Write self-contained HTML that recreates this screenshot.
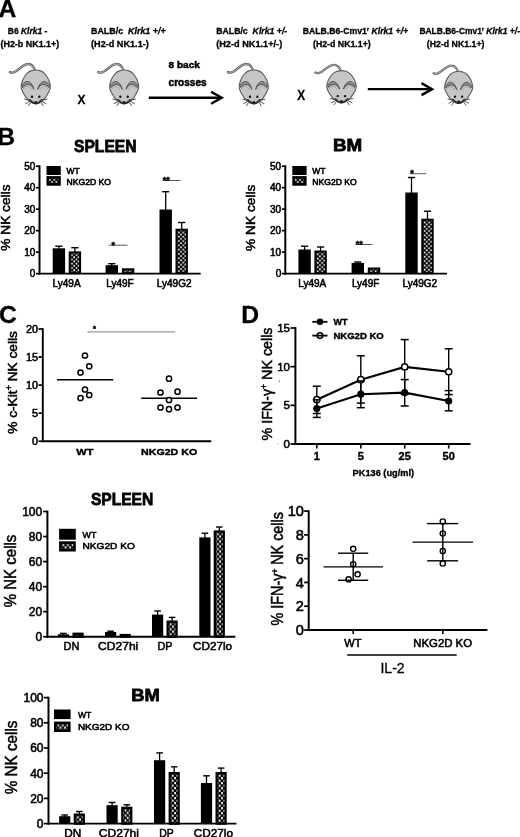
<!DOCTYPE html>
<html lang="en"><head><meta charset="utf-8"><title>Figure</title>
<style>html,body{margin:0;padding:0;background:#fff}svg{display:block}text{font-family:"Liberation Sans", Arial, sans-serif;fill:#000}.tk{stroke:#000;stroke-width:.55px}.lg{stroke:#000;stroke-width:.55px}.xl{stroke:#000;stroke-width:.55px}.hv{stroke:#000;stroke-width:.5px}.hd{stroke:#000;stroke-width:.8px}.ax{stroke:#000;stroke-width:.5px}.pa{stroke:#000;stroke-width:.3px}.lb{stroke:#000;stroke-width:.4px}</style>
</head><body>
<svg width="520" height="837" viewBox="0 0 520 837">
<defs><pattern id="chk" x="0" y="0.5" width="4.45" height="4.3" patternUnits="userSpaceOnUse"><rect width="4.45" height="4.3" fill="#000"/><rect x="2.45" y="2.35" width="1.7" height="1.7" fill="#fff"/><rect x="0.2" y="0.2" width="1.7" height="1.7" fill="#fff"/></pattern><pattern id="chk2" x="0.9" y="0" width="4.6" height="5.0" patternUnits="userSpaceOnUse"><rect width="4.6" height="5.0" fill="#000"/><rect x="2.45" y="2.6" width="1.7" height="2.2" fill="#fff"/><rect x="0.15" y="0.05" width="1.7" height="2.2" fill="#fff"/></pattern></defs>
<rect width="520" height="837" fill="#fff"/>
<text class="pa" x="-1.4" y="16.6" font-size="24.7" font-weight="bold">A</text>
<text class="pa" x="7.8" y="33.7" font-size="9" font-weight="bold" textLength="39.5" lengthAdjust="spacingAndGlyphs" xml:space="preserve">B6 <tspan font-style="italic">Klrk1 -</tspan></text>
<text class="pa" x="0.5" y="47" font-size="9" font-weight="bold" textLength="58.7" lengthAdjust="spacingAndGlyphs">(H2-b NK1.1+)</text>
<text class="pa" x="91" y="33.7" font-size="9" font-weight="bold" textLength="74.6" lengthAdjust="spacingAndGlyphs" xml:space="preserve">BALB/c  <tspan font-style="italic">Klrk1 +/+</tspan></text>
<text class="pa" x="91" y="47" font-size="9" font-weight="bold" textLength="57.8" lengthAdjust="spacingAndGlyphs">(H2-d NK1.1-)</text>
<text class="pa" x="216.2" y="33.7" font-size="9" font-weight="bold" textLength="71.1" lengthAdjust="spacingAndGlyphs" xml:space="preserve">BALB/c  <tspan font-style="italic">Klrk1 +/-</tspan></text>
<text class="pa" x="216.2" y="47" font-size="9" font-weight="bold" textLength="66" lengthAdjust="spacingAndGlyphs">(H2-d NK1.1+/-)</text>
<text class="pa" x="302.7" y="33.7" font-size="9" font-weight="bold" textLength="105.5" lengthAdjust="spacingAndGlyphs" xml:space="preserve">BALB.B6-Cmv1<tspan font-size="5.5" dy="-3">r</tspan><tspan dy="3" font-style="italic"> Klrk1 +/+</tspan></text>
<text class="pa" x="313" y="47" font-size="9" font-weight="bold" textLength="57.7" lengthAdjust="spacingAndGlyphs">(H2-d NK1.1+)</text>
<text class="pa" x="419.4" y="33.7" font-size="9" font-weight="bold" textLength="100.6" lengthAdjust="spacingAndGlyphs" xml:space="preserve">BALB.B6-Cmv1<tspan font-size="5.5" dy="-3">r</tspan><tspan dy="3" font-style="italic"> Klrk1 +/-</tspan></text>
<text class="pa" x="426.8" y="47" font-size="9" font-weight="bold" textLength="57.7" lengthAdjust="spacingAndGlyphs">(H2-d NK1.1+)</text>
<text class="hv" x="168.6" y="67.9" font-size="9.8" font-weight="bold" textLength="31.2" lengthAdjust="spacingAndGlyphs">8 back</text>
<text class="hv" x="168.6" y="85.6" font-size="10" font-weight="bold" textLength="38" lengthAdjust="spacingAndGlyphs">crosses</text>
<text class="pa" x="77.5" y="103.5" font-size="13" font-weight="bold" textLength="7.9" lengthAdjust="spacingAndGlyphs">X</text>
<text class="pa" x="297.2" y="99.9" font-size="14.3" font-weight="bold" textLength="7.9" lengthAdjust="spacingAndGlyphs">X</text>
<line x1="148.8" y1="97.75" x2="220.3" y2="97.75" stroke="#000" stroke-width="2.4"/>
<path d="M211.1 91.75 L221.7 97.75 L211.1 103.75" fill="none" stroke="#000" stroke-width="2.4" stroke-linejoin="miter"/>
<line x1="367.8" y1="89.15" x2="430.7" y2="89.15" stroke="#000" stroke-width="2.4"/>
<path d="M421.5 83.15 L432.1 89.15 L421.5 95.15" fill="none" stroke="#000" stroke-width="2.4" stroke-linejoin="miter"/>
<g transform="translate(4.27 57.12) scale(0.99 1.047)">
<path d="M31.3 13.4 C29.8 8.6 26.5 6 22.5 6.8 C17 8 14.5 13.2 9.5 14.6 C8 15 6.8 15 5.6 14.3" fill="none" stroke="#606060" stroke-width="2.3" stroke-linecap="round"/>
<path d="M31.3 13.4 C29.8 8.6 26.5 6 22.5 6.8 C17 8 14.5 13.2 9.5 14.6 C8 15 6.8 15 5.6 14.3" fill="none" stroke="#c2c2c2" stroke-width="0.8" stroke-linecap="round"/>
<path d="M31.8 12.3 C33.5 12.3 35.3 12.7 36.8 13.2 C38.3 13.7 39.4 14.4 40.6 15.5 C41.8 16.6 43.0 18.5 43.9 19.9 C44.8 21.3 45.3 22.6 45.7 24.0 C46.1 25.4 46.5 26.7 46.5 28.0 C46.5 29.3 46.1 30.8 45.6 32.0 C45.1 33.2 44.5 34.0 43.7 35.3 C42.9 36.5 41.9 38.3 40.8 39.5 C39.7 40.7 38.2 41.8 37.1 42.6 C36.0 43.4 35.2 43.9 34.0 44.2 C32.8 44.5 30.9 44.5 29.6 44.2 C28.4 43.9 27.6 43.4 26.5 42.6 C25.4 41.8 23.9 40.7 22.8 39.5 C21.7 38.3 20.7 36.5 19.9 35.3 C19.1 34.0 18.5 33.2 18.0 32.0 C17.5 30.8 17.1 29.3 17.1 28.0 C17.1 26.7 17.5 25.4 17.9 24.0 C18.3 22.6 18.9 21.3 19.7 19.9 C20.6 18.5 21.8 16.6 23.0 15.5 C24.2 14.4 25.3 13.7 26.8 13.2 C28.3 12.7 30.1 12.3 31.8 12.3 Z" fill="#c6c6c6" stroke="#5c5c5c" stroke-width="1.15"/>
<path d="M18 27.4 C20.8 21.4 27.6 21.6 29.8 30.8 C27.2 25 22.4 24.8 18.8 29 Z" fill="#8c8c8c" stroke="#4a4a4a" stroke-width="0.9" stroke-linejoin="round"/>
<path d="M19.2 30.6 C22.2 26.6 25.6 27 27.4 31.4" fill="none" stroke="#9a9a9a" stroke-width="0.7"/>
<path d="M45.6 27.4 C42.8 21.4 36 21.6 33.8 30.8 C36.4 25 41.2 24.8 44.8 29 Z" fill="#8c8c8c" stroke="#4a4a4a" stroke-width="0.9" stroke-linejoin="round"/>
<path d="M44.4 30.6 C41.4 26.6 38 27 36.2 31.4" fill="none" stroke="#9a9a9a" stroke-width="0.7"/>
<circle cx="28" cy="37.8" r="1.2" fill="#111"/><circle cx="35.4" cy="37.8" r="1.2" fill="#111"/>
<path d="M25.3 40.4 C27.4 42.7 29.8 44.3 31.8 44.3 C33.8 44.3 36.2 42.7 38.3 40.4" fill="none" stroke="#333" stroke-width="1.8"/>
<ellipse cx="31.8" cy="43.3" rx="1.6" ry="1.5" fill="#1c1c1c"/>
<line x1="26" y1="41.3" x2="20.2" y2="40.2" stroke="#3c3c3c" stroke-width="0.85"/>
<line x1="37.8" y1="41.3" x2="43.6" y2="40.2" stroke="#3c3c3c" stroke-width="0.85"/>
<line x1="25.7" y1="42.4" x2="21.2" y2="44.6" stroke="#3c3c3c" stroke-width="0.85"/>
<line x1="38.1" y1="42.4" x2="42.6" y2="44.6" stroke="#3c3c3c" stroke-width="0.85"/>
<line x1="26.6" y1="43.3" x2="24.2" y2="46.8" stroke="#3c3c3c" stroke-width="0.85"/>
<line x1="37.2" y1="43.3" x2="39.6" y2="46.8" stroke="#3c3c3c" stroke-width="0.85"/>
</g>
<g transform="translate(92.67 57.12) scale(0.99 1.047)">
<path d="M31.3 13.4 C29.8 8.6 26.5 6 22.5 6.8 C17 8 14.5 13.2 9.5 14.6 C8 15 6.8 15 5.6 14.3" fill="none" stroke="#606060" stroke-width="2.3" stroke-linecap="round"/>
<path d="M31.3 13.4 C29.8 8.6 26.5 6 22.5 6.8 C17 8 14.5 13.2 9.5 14.6 C8 15 6.8 15 5.6 14.3" fill="none" stroke="#c2c2c2" stroke-width="0.8" stroke-linecap="round"/>
<path d="M31.8 12.3 C33.5 12.3 35.3 12.7 36.8 13.2 C38.3 13.7 39.4 14.4 40.6 15.5 C41.8 16.6 43.0 18.5 43.9 19.9 C44.8 21.3 45.3 22.6 45.7 24.0 C46.1 25.4 46.5 26.7 46.5 28.0 C46.5 29.3 46.1 30.8 45.6 32.0 C45.1 33.2 44.5 34.0 43.7 35.3 C42.9 36.5 41.9 38.3 40.8 39.5 C39.7 40.7 38.2 41.8 37.1 42.6 C36.0 43.4 35.2 43.9 34.0 44.2 C32.8 44.5 30.9 44.5 29.6 44.2 C28.4 43.9 27.6 43.4 26.5 42.6 C25.4 41.8 23.9 40.7 22.8 39.5 C21.7 38.3 20.7 36.5 19.9 35.3 C19.1 34.0 18.5 33.2 18.0 32.0 C17.5 30.8 17.1 29.3 17.1 28.0 C17.1 26.7 17.5 25.4 17.9 24.0 C18.3 22.6 18.9 21.3 19.7 19.9 C20.6 18.5 21.8 16.6 23.0 15.5 C24.2 14.4 25.3 13.7 26.8 13.2 C28.3 12.7 30.1 12.3 31.8 12.3 Z" fill="#c6c6c6" stroke="#5c5c5c" stroke-width="1.15"/>
<path d="M18 27.4 C20.8 21.4 27.6 21.6 29.8 30.8 C27.2 25 22.4 24.8 18.8 29 Z" fill="#8c8c8c" stroke="#4a4a4a" stroke-width="0.9" stroke-linejoin="round"/>
<path d="M19.2 30.6 C22.2 26.6 25.6 27 27.4 31.4" fill="none" stroke="#9a9a9a" stroke-width="0.7"/>
<path d="M45.6 27.4 C42.8 21.4 36 21.6 33.8 30.8 C36.4 25 41.2 24.8 44.8 29 Z" fill="#8c8c8c" stroke="#4a4a4a" stroke-width="0.9" stroke-linejoin="round"/>
<path d="M44.4 30.6 C41.4 26.6 38 27 36.2 31.4" fill="none" stroke="#9a9a9a" stroke-width="0.7"/>
<circle cx="28" cy="37.8" r="1.2" fill="#111"/><circle cx="35.4" cy="37.8" r="1.2" fill="#111"/>
<path d="M25.3 40.4 C27.4 42.7 29.8 44.3 31.8 44.3 C33.8 44.3 36.2 42.7 38.3 40.4" fill="none" stroke="#333" stroke-width="1.8"/>
<ellipse cx="31.8" cy="43.3" rx="1.6" ry="1.5" fill="#1c1c1c"/>
<line x1="26" y1="41.3" x2="20.2" y2="40.2" stroke="#3c3c3c" stroke-width="0.85"/>
<line x1="37.8" y1="41.3" x2="43.6" y2="40.2" stroke="#3c3c3c" stroke-width="0.85"/>
<line x1="25.7" y1="42.4" x2="21.2" y2="44.6" stroke="#3c3c3c" stroke-width="0.85"/>
<line x1="38.1" y1="42.4" x2="42.6" y2="44.6" stroke="#3c3c3c" stroke-width="0.85"/>
<line x1="26.6" y1="43.3" x2="24.2" y2="46.8" stroke="#3c3c3c" stroke-width="0.85"/>
<line x1="37.2" y1="43.3" x2="39.6" y2="46.8" stroke="#3c3c3c" stroke-width="0.85"/>
</g>
<g transform="translate(222.27 57.12) scale(0.99 1.047)">
<path d="M31.3 13.4 C29.8 8.6 26.5 6 22.5 6.8 C17 8 14.5 13.2 9.5 14.6 C8 15 6.8 15 5.6 14.3" fill="none" stroke="#606060" stroke-width="2.3" stroke-linecap="round"/>
<path d="M31.3 13.4 C29.8 8.6 26.5 6 22.5 6.8 C17 8 14.5 13.2 9.5 14.6 C8 15 6.8 15 5.6 14.3" fill="none" stroke="#c2c2c2" stroke-width="0.8" stroke-linecap="round"/>
<path d="M31.8 12.3 C33.5 12.3 35.3 12.7 36.8 13.2 C38.3 13.7 39.4 14.4 40.6 15.5 C41.8 16.6 43.0 18.5 43.9 19.9 C44.8 21.3 45.3 22.6 45.7 24.0 C46.1 25.4 46.5 26.7 46.5 28.0 C46.5 29.3 46.1 30.8 45.6 32.0 C45.1 33.2 44.5 34.0 43.7 35.3 C42.9 36.5 41.9 38.3 40.8 39.5 C39.7 40.7 38.2 41.8 37.1 42.6 C36.0 43.4 35.2 43.9 34.0 44.2 C32.8 44.5 30.9 44.5 29.6 44.2 C28.4 43.9 27.6 43.4 26.5 42.6 C25.4 41.8 23.9 40.7 22.8 39.5 C21.7 38.3 20.7 36.5 19.9 35.3 C19.1 34.0 18.5 33.2 18.0 32.0 C17.5 30.8 17.1 29.3 17.1 28.0 C17.1 26.7 17.5 25.4 17.9 24.0 C18.3 22.6 18.9 21.3 19.7 19.9 C20.6 18.5 21.8 16.6 23.0 15.5 C24.2 14.4 25.3 13.7 26.8 13.2 C28.3 12.7 30.1 12.3 31.8 12.3 Z" fill="#c6c6c6" stroke="#5c5c5c" stroke-width="1.15"/>
<path d="M18 27.4 C20.8 21.4 27.6 21.6 29.8 30.8 C27.2 25 22.4 24.8 18.8 29 Z" fill="#8c8c8c" stroke="#4a4a4a" stroke-width="0.9" stroke-linejoin="round"/>
<path d="M19.2 30.6 C22.2 26.6 25.6 27 27.4 31.4" fill="none" stroke="#9a9a9a" stroke-width="0.7"/>
<path d="M45.6 27.4 C42.8 21.4 36 21.6 33.8 30.8 C36.4 25 41.2 24.8 44.8 29 Z" fill="#8c8c8c" stroke="#4a4a4a" stroke-width="0.9" stroke-linejoin="round"/>
<path d="M44.4 30.6 C41.4 26.6 38 27 36.2 31.4" fill="none" stroke="#9a9a9a" stroke-width="0.7"/>
<circle cx="28" cy="37.8" r="1.2" fill="#111"/><circle cx="35.4" cy="37.8" r="1.2" fill="#111"/>
<path d="M25.3 40.4 C27.4 42.7 29.8 44.3 31.8 44.3 C33.8 44.3 36.2 42.7 38.3 40.4" fill="none" stroke="#333" stroke-width="1.8"/>
<ellipse cx="31.8" cy="43.3" rx="1.6" ry="1.5" fill="#1c1c1c"/>
<line x1="26" y1="41.3" x2="20.2" y2="40.2" stroke="#3c3c3c" stroke-width="0.85"/>
<line x1="37.8" y1="41.3" x2="43.6" y2="40.2" stroke="#3c3c3c" stroke-width="0.85"/>
<line x1="25.7" y1="42.4" x2="21.2" y2="44.6" stroke="#3c3c3c" stroke-width="0.85"/>
<line x1="38.1" y1="42.4" x2="42.6" y2="44.6" stroke="#3c3c3c" stroke-width="0.85"/>
<line x1="26.6" y1="43.3" x2="24.2" y2="46.8" stroke="#3c3c3c" stroke-width="0.85"/>
<line x1="37.2" y1="43.3" x2="39.6" y2="46.8" stroke="#3c3c3c" stroke-width="0.85"/>
</g>
<g transform="translate(309.7 58.3) scale(1 1)">
<path d="M31.3 13.4 C29.8 8.6 26.5 6 22.5 6.8 C17 8 14.5 13.2 9.5 14.6 C8 15 6.8 15 5.6 14.3" fill="none" stroke="#606060" stroke-width="2.3" stroke-linecap="round"/>
<path d="M31.3 13.4 C29.8 8.6 26.5 6 22.5 6.8 C17 8 14.5 13.2 9.5 14.6 C8 15 6.8 15 5.6 14.3" fill="none" stroke="#c2c2c2" stroke-width="0.8" stroke-linecap="round"/>
<path d="M31.8 12.3 C33.5 12.3 35.3 12.7 36.8 13.2 C38.3 13.7 39.4 14.4 40.6 15.5 C41.8 16.6 43.0 18.5 43.9 19.9 C44.8 21.3 45.3 22.6 45.7 24.0 C46.1 25.4 46.5 26.7 46.5 28.0 C46.5 29.3 46.1 30.8 45.6 32.0 C45.1 33.2 44.5 34.0 43.7 35.3 C42.9 36.5 41.9 38.3 40.8 39.5 C39.7 40.7 38.2 41.8 37.1 42.6 C36.0 43.4 35.2 43.9 34.0 44.2 C32.8 44.5 30.9 44.5 29.6 44.2 C28.4 43.9 27.6 43.4 26.5 42.6 C25.4 41.8 23.9 40.7 22.8 39.5 C21.7 38.3 20.7 36.5 19.9 35.3 C19.1 34.0 18.5 33.2 18.0 32.0 C17.5 30.8 17.1 29.3 17.1 28.0 C17.1 26.7 17.5 25.4 17.9 24.0 C18.3 22.6 18.9 21.3 19.7 19.9 C20.6 18.5 21.8 16.6 23.0 15.5 C24.2 14.4 25.3 13.7 26.8 13.2 C28.3 12.7 30.1 12.3 31.8 12.3 Z" fill="#c6c6c6" stroke="#5c5c5c" stroke-width="1.15"/>
<path d="M18 27.4 C20.8 21.4 27.6 21.6 29.8 30.8 C27.2 25 22.4 24.8 18.8 29 Z" fill="#8c8c8c" stroke="#4a4a4a" stroke-width="0.9" stroke-linejoin="round"/>
<path d="M19.2 30.6 C22.2 26.6 25.6 27 27.4 31.4" fill="none" stroke="#9a9a9a" stroke-width="0.7"/>
<path d="M45.6 27.4 C42.8 21.4 36 21.6 33.8 30.8 C36.4 25 41.2 24.8 44.8 29 Z" fill="#8c8c8c" stroke="#4a4a4a" stroke-width="0.9" stroke-linejoin="round"/>
<path d="M44.4 30.6 C41.4 26.6 38 27 36.2 31.4" fill="none" stroke="#9a9a9a" stroke-width="0.7"/>
<circle cx="28" cy="37.8" r="1.2" fill="#111"/><circle cx="35.4" cy="37.8" r="1.2" fill="#111"/>
<path d="M25.3 40.4 C27.4 42.7 29.8 44.3 31.8 44.3 C33.8 44.3 36.2 42.7 38.3 40.4" fill="none" stroke="#333" stroke-width="1.8"/>
<ellipse cx="31.8" cy="43.3" rx="1.6" ry="1.5" fill="#1c1c1c"/>
<line x1="26" y1="41.3" x2="20.2" y2="40.2" stroke="#3c3c3c" stroke-width="0.85"/>
<line x1="37.8" y1="41.3" x2="43.6" y2="40.2" stroke="#3c3c3c" stroke-width="0.85"/>
<line x1="25.7" y1="42.4" x2="21.2" y2="44.6" stroke="#3c3c3c" stroke-width="0.85"/>
<line x1="38.1" y1="42.4" x2="42.6" y2="44.6" stroke="#3c3c3c" stroke-width="0.85"/>
<line x1="26.6" y1="43.3" x2="24.2" y2="46.8" stroke="#3c3c3c" stroke-width="0.85"/>
<line x1="37.2" y1="43.3" x2="39.6" y2="46.8" stroke="#3c3c3c" stroke-width="0.85"/>
</g>
<g transform="translate(428.25 59.07) scale(0.956 0.994)">
<path d="M31.3 13.4 C29.8 8.6 26.5 6 22.5 6.8 C17 8 14.5 13.2 9.5 14.6 C8 15 6.8 15 5.6 14.3" fill="none" stroke="#606060" stroke-width="2.3" stroke-linecap="round"/>
<path d="M31.3 13.4 C29.8 8.6 26.5 6 22.5 6.8 C17 8 14.5 13.2 9.5 14.6 C8 15 6.8 15 5.6 14.3" fill="none" stroke="#c2c2c2" stroke-width="0.8" stroke-linecap="round"/>
<path d="M31.8 12.3 C33.5 12.3 35.3 12.7 36.8 13.2 C38.3 13.7 39.4 14.4 40.6 15.5 C41.8 16.6 43.0 18.5 43.9 19.9 C44.8 21.3 45.3 22.6 45.7 24.0 C46.1 25.4 46.5 26.7 46.5 28.0 C46.5 29.3 46.1 30.8 45.6 32.0 C45.1 33.2 44.5 34.0 43.7 35.3 C42.9 36.5 41.9 38.3 40.8 39.5 C39.7 40.7 38.2 41.8 37.1 42.6 C36.0 43.4 35.2 43.9 34.0 44.2 C32.8 44.5 30.9 44.5 29.6 44.2 C28.4 43.9 27.6 43.4 26.5 42.6 C25.4 41.8 23.9 40.7 22.8 39.5 C21.7 38.3 20.7 36.5 19.9 35.3 C19.1 34.0 18.5 33.2 18.0 32.0 C17.5 30.8 17.1 29.3 17.1 28.0 C17.1 26.7 17.5 25.4 17.9 24.0 C18.3 22.6 18.9 21.3 19.7 19.9 C20.6 18.5 21.8 16.6 23.0 15.5 C24.2 14.4 25.3 13.7 26.8 13.2 C28.3 12.7 30.1 12.3 31.8 12.3 Z" fill="#c6c6c6" stroke="#5c5c5c" stroke-width="1.15"/>
<path d="M18 27.4 C20.8 21.4 27.6 21.6 29.8 30.8 C27.2 25 22.4 24.8 18.8 29 Z" fill="#8c8c8c" stroke="#4a4a4a" stroke-width="0.9" stroke-linejoin="round"/>
<path d="M19.2 30.6 C22.2 26.6 25.6 27 27.4 31.4" fill="none" stroke="#9a9a9a" stroke-width="0.7"/>
<path d="M45.6 27.4 C42.8 21.4 36 21.6 33.8 30.8 C36.4 25 41.2 24.8 44.8 29 Z" fill="#8c8c8c" stroke="#4a4a4a" stroke-width="0.9" stroke-linejoin="round"/>
<path d="M44.4 30.6 C41.4 26.6 38 27 36.2 31.4" fill="none" stroke="#9a9a9a" stroke-width="0.7"/>
<circle cx="28" cy="37.8" r="1.2" fill="#111"/><circle cx="35.4" cy="37.8" r="1.2" fill="#111"/>
<path d="M25.3 40.4 C27.4 42.7 29.8 44.3 31.8 44.3 C33.8 44.3 36.2 42.7 38.3 40.4" fill="none" stroke="#333" stroke-width="1.8"/>
<ellipse cx="31.8" cy="43.3" rx="1.6" ry="1.5" fill="#1c1c1c"/>
<line x1="26" y1="41.3" x2="20.2" y2="40.2" stroke="#3c3c3c" stroke-width="0.85"/>
<line x1="37.8" y1="41.3" x2="43.6" y2="40.2" stroke="#3c3c3c" stroke-width="0.85"/>
<line x1="25.7" y1="42.4" x2="21.2" y2="44.6" stroke="#3c3c3c" stroke-width="0.85"/>
<line x1="38.1" y1="42.4" x2="42.6" y2="44.6" stroke="#3c3c3c" stroke-width="0.85"/>
<line x1="26.6" y1="43.3" x2="24.2" y2="46.8" stroke="#3c3c3c" stroke-width="0.85"/>
<line x1="37.2" y1="43.3" x2="39.6" y2="46.8" stroke="#3c3c3c" stroke-width="0.85"/>
</g>
<text class="pa" x="-2.8" y="145.4" font-size="24.7" font-weight="bold">B</text>
<text class="hd" x="74.0" y="151.6" font-size="17.3" font-weight="bold" textLength="62.6" lengthAdjust="spacingAndGlyphs">SPLEEN</text>
<text class="hd" x="333.0" y="151.0" font-size="17.3" font-weight="bold" textLength="29.2" lengthAdjust="spacingAndGlyphs">BM</text>
<line x1="58.9" y1="248.8" x2="58.9" y2="246.2" stroke="#000" stroke-width="1.3"/>
<line x1="55.3" y1="246.2" x2="62.5" y2="246.2" stroke="#000" stroke-width="1.4"/>
<rect x="52.7" y="248.3" width="12.4" height="24.9" fill="#000"/>
<line x1="74.9" y1="251.9" x2="74.9" y2="247.7" stroke="#000" stroke-width="1.3"/>
<line x1="71.3" y1="247.7" x2="78.5" y2="247.7" stroke="#000" stroke-width="1.4"/>
<g transform="translate(68.7 251.4)">
<rect x="1.0" y="1.0" width="10.4" height="20.8" fill="url(#chk)" stroke="#000" stroke-width="2"/>
</g>
<line x1="111.8" y1="265.7" x2="111.8" y2="263.7" stroke="#000" stroke-width="1.3"/>
<line x1="108.2" y1="263.7" x2="115.4" y2="263.7" stroke="#000" stroke-width="1.4"/>
<rect x="105.6" y="265.2" width="12.4" height="8.0" fill="#000"/>
<g transform="translate(121.9 268.3)">
<rect x="1.0" y="1.0" width="10.4" height="3.9" fill="url(#chk)" stroke="#000" stroke-width="2"/>
</g>
<line x1="165.7" y1="210.0" x2="165.7" y2="191.7" stroke="#000" stroke-width="1.3"/>
<line x1="162.1" y1="191.7" x2="169.3" y2="191.7" stroke="#000" stroke-width="1.4"/>
<rect x="159.5" y="209.5" width="12.4" height="63.7" fill="#000"/>
<line x1="181.7" y1="229.2" x2="181.7" y2="222.5" stroke="#000" stroke-width="1.3"/>
<line x1="178.1" y1="222.5" x2="185.3" y2="222.5" stroke="#000" stroke-width="1.4"/>
<g transform="translate(175.5 228.7)">
<rect x="1.0" y="1.0" width="10.4" height="43.5" fill="url(#chk)" stroke="#000" stroke-width="2"/>
</g>
<line x1="39.5" y1="165.35" x2="39.5" y2="274.65" stroke="#000" stroke-width="2"/>
<line x1="36" y1="166.2" x2="39.5" y2="166.2" stroke="#000" stroke-width="1.7"/>
<text class="tk" x="35.4" y="169.8" font-size="10" text-anchor="end">50</text>
<line x1="36" y1="187.69" x2="39.5" y2="187.69" stroke="#000" stroke-width="1.7"/>
<text class="tk" x="35.4" y="191.29" font-size="10" text-anchor="end">40</text>
<line x1="36" y1="209.18" x2="39.5" y2="209.18" stroke="#000" stroke-width="1.7"/>
<text class="tk" x="35.4" y="212.78" font-size="10" text-anchor="end">30</text>
<line x1="36" y1="230.67" x2="39.5" y2="230.67" stroke="#000" stroke-width="1.7"/>
<text class="tk" x="35.4" y="234.27" font-size="10" text-anchor="end">20</text>
<line x1="36" y1="252.16" x2="39.5" y2="252.16" stroke="#000" stroke-width="1.7"/>
<text class="tk" x="35.4" y="255.76" font-size="10" text-anchor="end">10</text>
<line x1="36" y1="273.65" x2="39.5" y2="273.65" stroke="#000" stroke-width="1.7"/>
<text class="tk" x="35.4" y="277.25" font-size="10" text-anchor="end">0</text>
<line x1="38.5" y1="273.65" x2="200.7" y2="273.65" stroke="#000" stroke-width="1.9"/>
<text class="xl" x="66.6" y="286.8" font-size="10" text-anchor="middle">Ly49A</text>
<text class="xl" x="119.9" y="286.8" font-size="10" text-anchor="middle">Ly49F</text>
<text class="xl" x="174.2" y="286.8" font-size="10" text-anchor="middle">Ly49G2</text>
<line x1="108.7" y1="245.2" x2="127.5" y2="245.2" stroke="#444" stroke-width="0.9"/>
<text class="hv" x="111.5" y="247.6" font-size="9" font-weight="bold">*</text>
<line x1="162.5" y1="180.5" x2="180.5" y2="180.5" stroke="#444" stroke-width="0.9"/>
<text class="hv" x="162.7" y="182.9" font-size="9" font-weight="bold">**</text>
<rect x="46.5" y="166.0" width="14.3" height="9.0" fill="#000"/>
<g transform="translate(46.5 176.1)">
<rect x="1.3" y="1.3" width="11.7" height="7.0" fill="url(#chk)" stroke="#000" stroke-width="2.6"/>
</g>
<text class="lg" x="66.5" y="173.5" font-size="8.3" textLength="13.2" lengthAdjust="spacingAndGlyphs">WT</text>
<text class="lg" x="66.5" y="184.6" font-size="8.3" textLength="44.5" lengthAdjust="spacingAndGlyphs">NKG2D KO</text>
<text class="ax" x="9.7" y="217.6" font-size="12.6" textLength="66.2" lengthAdjust="spacingAndGlyphs" text-anchor="middle" transform="rotate(-90 9.7 217.6)">% NK cells</text>
<line x1="304.6" y1="250.0" x2="304.6" y2="246.2" stroke="#000" stroke-width="1.3"/>
<line x1="301.0" y1="246.2" x2="308.2" y2="246.2" stroke="#000" stroke-width="1.4"/>
<rect x="298.4" y="249.5" width="12.4" height="23.7" fill="#000"/>
<line x1="320.6" y1="251.0" x2="320.6" y2="247" stroke="#000" stroke-width="1.3"/>
<line x1="317.0" y1="247" x2="324.2" y2="247" stroke="#000" stroke-width="1.4"/>
<g transform="translate(314.4 250.5)">
<rect x="1.0" y="1.0" width="10.4" height="21.7" fill="url(#chk)" stroke="#000" stroke-width="2"/>
</g>
<line x1="357.8" y1="263.5" x2="357.8" y2="262" stroke="#000" stroke-width="1.3"/>
<line x1="354.2" y1="262" x2="361.4" y2="262" stroke="#000" stroke-width="1.4"/>
<rect x="351.6" y="263" width="12.4" height="10.2" fill="#000"/>
<g transform="translate(367.8 267.5)">
<rect x="1.0" y="1.0" width="10.4" height="4.7" fill="url(#chk)" stroke="#000" stroke-width="2"/>
</g>
<line x1="411.5" y1="193.0" x2="411.5" y2="177.5" stroke="#000" stroke-width="1.3"/>
<line x1="407.9" y1="177.5" x2="415.1" y2="177.5" stroke="#000" stroke-width="1.4"/>
<rect x="405.3" y="192.5" width="12.4" height="80.7" fill="#000"/>
<line x1="427.5" y1="219.2" x2="427.5" y2="211.2" stroke="#000" stroke-width="1.3"/>
<line x1="423.9" y1="211.2" x2="431.1" y2="211.2" stroke="#000" stroke-width="1.4"/>
<g transform="translate(421.3 218.7)">
<rect x="1.0" y="1.0" width="10.4" height="53.5" fill="url(#chk)" stroke="#000" stroke-width="2"/>
</g>
<line x1="285.3" y1="165.35" x2="285.3" y2="274.65" stroke="#000" stroke-width="2"/>
<line x1="281.8" y1="166.2" x2="285.3" y2="166.2" stroke="#000" stroke-width="1.7"/>
<text class="tk" x="281.2" y="169.8" font-size="10" text-anchor="end">50</text>
<line x1="281.8" y1="187.69" x2="285.3" y2="187.69" stroke="#000" stroke-width="1.7"/>
<text class="tk" x="281.2" y="191.29" font-size="10" text-anchor="end">40</text>
<line x1="281.8" y1="209.18" x2="285.3" y2="209.18" stroke="#000" stroke-width="1.7"/>
<text class="tk" x="281.2" y="212.78" font-size="10" text-anchor="end">30</text>
<line x1="281.8" y1="230.67" x2="285.3" y2="230.67" stroke="#000" stroke-width="1.7"/>
<text class="tk" x="281.2" y="234.27" font-size="10" text-anchor="end">20</text>
<line x1="281.8" y1="252.16" x2="285.3" y2="252.16" stroke="#000" stroke-width="1.7"/>
<text class="tk" x="281.2" y="255.76" font-size="10" text-anchor="end">10</text>
<line x1="281.8" y1="273.65" x2="285.3" y2="273.65" stroke="#000" stroke-width="1.7"/>
<text class="tk" x="281.2" y="277.25" font-size="10" text-anchor="end">0</text>
<line x1="284.3" y1="273.65" x2="447" y2="273.65" stroke="#000" stroke-width="1.9"/>
<text class="xl" x="312.2" y="286.8" font-size="10" text-anchor="middle">Ly49A</text>
<text class="xl" x="365.6" y="286.8" font-size="10" text-anchor="middle">Ly49F</text>
<text class="xl" x="419.8" y="286.8" font-size="10" text-anchor="middle">Ly49G2</text>
<line x1="355.5" y1="244.5" x2="372.5" y2="244.5" stroke="#444" stroke-width="0.9"/>
<text class="hv" x="355.7" y="246.9" font-size="9" font-weight="bold">**</text>
<line x1="409.5" y1="173.7" x2="426.2" y2="173.7" stroke="#444" stroke-width="0.9"/>
<text class="hv" x="410.3" y="176.1" font-size="9" font-weight="bold">*</text>
<rect x="292.3" y="166.0" width="14.3" height="9.0" fill="#000"/>
<g transform="translate(292.3 176.1)">
<rect x="1.3" y="1.3" width="11.7" height="7.0" fill="url(#chk)" stroke="#000" stroke-width="2.6"/>
</g>
<text class="lg" x="312.3" y="173.5" font-size="8.3" textLength="13.2" lengthAdjust="spacingAndGlyphs">WT</text>
<text class="lg" x="312.3" y="184.6" font-size="8.3" textLength="44.5" lengthAdjust="spacingAndGlyphs">NKG2D KO</text>
<text class="ax" x="255.5" y="217.8" font-size="12.6" textLength="66.2" lengthAdjust="spacingAndGlyphs" text-anchor="middle" transform="rotate(-90 255.5 217.8)">% NK cells</text>
<text class="pa" x="-0.9" y="323" font-size="24.7" font-weight="bold">C</text>
<line x1="42.8" y1="328.15" x2="42.8" y2="442.19" stroke="#000" stroke-width="1.9"/>
<line x1="38.5" y1="329.0" x2="42.8" y2="329.0" stroke="#000" stroke-width="1.7"/>
<text class="tk" x="38.0" y="332.89" font-size="10.8" text-anchor="end">20</text>
<line x1="38.5" y1="357.06" x2="42.8" y2="357.06" stroke="#000" stroke-width="1.7"/>
<text class="tk" x="38.0" y="360.95" font-size="10.8" text-anchor="end">15</text>
<line x1="38.5" y1="385.12" x2="42.8" y2="385.12" stroke="#000" stroke-width="1.7"/>
<text class="tk" x="38.0" y="389.01" font-size="10.8" text-anchor="end">10</text>
<line x1="38.5" y1="413.18" x2="42.8" y2="413.18" stroke="#000" stroke-width="1.7"/>
<text class="tk" x="38.0" y="417.07" font-size="10.8" text-anchor="end">5</text>
<line x1="38.5" y1="441.24" x2="42.8" y2="441.24" stroke="#000" stroke-width="1.7"/>
<text class="tk" x="38.0" y="445.13" font-size="10.8" text-anchor="end">0</text>
<line x1="41.85" y1="441.25" x2="211.2" y2="441.25" stroke="#000" stroke-width="1.8"/>
<line x1="87.3" y1="331.9" x2="175.2" y2="331.9" stroke="#999" stroke-width="1.3"/>
<text class="hv" x="92.9" y="330.7" font-size="7.5" font-weight="bold">*</text>
<line x1="57" y1="379.8" x2="113.2" y2="379.8" stroke="#000" stroke-width="1.6"/>
<line x1="141.2" y1="398.2" x2="197" y2="398.2" stroke="#000" stroke-width="1.6"/>
<circle cx="85" cy="355.5" r="2.6" fill="#fff" stroke="#000" stroke-width="1.5"/>
<circle cx="89.25" cy="366.25" r="2.6" fill="#fff" stroke="#000" stroke-width="1.5"/>
<circle cx="80.5" cy="372.5" r="2.6" fill="#fff" stroke="#000" stroke-width="1.5"/>
<circle cx="85" cy="389.5" r="2.6" fill="#fff" stroke="#000" stroke-width="1.5"/>
<circle cx="89.25" cy="395" r="2.6" fill="#fff" stroke="#000" stroke-width="1.5"/>
<circle cx="80.5" cy="398" r="2.6" fill="#fff" stroke="#000" stroke-width="1.5"/>
<circle cx="169" cy="378.7" r="2.6" fill="#fff" stroke="#000" stroke-width="1.5"/>
<circle cx="160.5" cy="392.5" r="2.6" fill="#fff" stroke="#000" stroke-width="1.5"/>
<circle cx="177.5" cy="391.7" r="2.6" fill="#fff" stroke="#000" stroke-width="1.5"/>
<circle cx="169" cy="400" r="2.6" fill="#fff" stroke="#000" stroke-width="1.5"/>
<circle cx="160.5" cy="407.5" r="2.6" fill="#fff" stroke="#000" stroke-width="1.5"/>
<circle cx="169" cy="409.2" r="2.6" fill="#fff" stroke="#000" stroke-width="1.5"/>
<circle cx="177.5" cy="407.5" r="2.6" fill="#fff" stroke="#000" stroke-width="1.5"/>
<text class="lb" x="76.3" y="455" font-size="9.6" font-weight="bold" textLength="17.2" lengthAdjust="spacingAndGlyphs">WT</text>
<text class="lb" x="141" y="455" font-size="9.6" font-weight="bold" textLength="56.2" lengthAdjust="spacingAndGlyphs">NKG2D KO</text>
<text class="ax" transform="rotate(-90 17.5 433.7)" x="17.5" y="433.7" font-size="13" textLength="102.5" lengthAdjust="spacingAndGlyphs">% c-Kit<tspan font-size="9" dy="-5">+</tspan><tspan dy="5"> NK cells</tspan></text>
<text class="hd" x="90.9" y="504.6" font-size="17.3" font-weight="bold" textLength="62.4" lengthAdjust="spacingAndGlyphs">SPLEEN</text>
<line x1="63.4" y1="634.8" x2="63.4" y2="633.4" stroke="#000" stroke-width="1.3"/>
<line x1="60.1" y1="633.4" x2="66.7" y2="633.4" stroke="#000" stroke-width="1.4"/>
<rect x="57.8" y="634.3" width="11.2" height="2.4" fill="#000"/>
<g transform="translate(72.5 632.6)">
<rect x="1.15" y="1.15" width="8.9" height="2.95" fill="url(#chk2)" stroke="#000" stroke-width="2.3"/>
</g>
<line x1="110.6" y1="632.5" x2="110.6" y2="631.2" stroke="#000" stroke-width="1.3"/>
<line x1="107.3" y1="631.2" x2="113.9" y2="631.2" stroke="#000" stroke-width="1.4"/>
<rect x="105" y="632" width="11.2" height="4.7" fill="#000"/>
<g transform="translate(119.6 633.9)">
<rect x="1.15" y="1.15" width="8.9" height="1.65" fill="url(#chk2)" stroke="#000" stroke-width="2.3"/>
</g>
<line x1="157.6" y1="615.1" x2="157.6" y2="611" stroke="#000" stroke-width="1.3"/>
<line x1="154.3" y1="611" x2="160.9" y2="611" stroke="#000" stroke-width="1.4"/>
<rect x="152" y="614.6" width="11.2" height="22.1" fill="#000"/>
<line x1="172.1" y1="621.0" x2="172.1" y2="617.4" stroke="#000" stroke-width="1.3"/>
<line x1="168.8" y1="617.4" x2="175.4" y2="617.4" stroke="#000" stroke-width="1.4"/>
<g transform="translate(166.5 620.5)">
<rect x="1.15" y="1.15" width="8.9" height="15.05" fill="url(#chk2)" stroke="#000" stroke-width="2.3"/>
</g>
<line x1="204.9" y1="537.9" x2="204.9" y2="533.2" stroke="#000" stroke-width="1.3"/>
<line x1="201.6" y1="533.2" x2="208.2" y2="533.2" stroke="#000" stroke-width="1.4"/>
<rect x="199.3" y="537.4" width="11.2" height="99.3" fill="#000"/>
<line x1="219.3" y1="530.9" x2="219.3" y2="527" stroke="#000" stroke-width="1.3"/>
<line x1="216.0" y1="527" x2="222.6" y2="527" stroke="#000" stroke-width="1.4"/>
<g transform="translate(213.7 530.4)">
<rect x="1.15" y="1.15" width="8.9" height="105.15" fill="url(#chk2)" stroke="#000" stroke-width="2.3"/>
</g>
<line x1="47.4" y1="510.65" x2="47.4" y2="637.7" stroke="#000" stroke-width="2"/>
<line x1="43.1" y1="511.5" x2="47.4" y2="511.5" stroke="#000" stroke-width="1.7"/>
<text class="tk" x="42.2" y="515.82" font-size="12" text-anchor="end">100</text>
<line x1="43.1" y1="536.54" x2="47.4" y2="536.54" stroke="#000" stroke-width="1.7"/>
<text class="tk" x="42.2" y="540.86" font-size="12" text-anchor="end">80</text>
<line x1="43.1" y1="561.58" x2="47.4" y2="561.58" stroke="#000" stroke-width="1.7"/>
<text class="tk" x="42.2" y="565.9" font-size="12" text-anchor="end">60</text>
<line x1="43.1" y1="586.62" x2="47.4" y2="586.62" stroke="#000" stroke-width="1.7"/>
<text class="tk" x="42.2" y="590.94" font-size="12" text-anchor="end">40</text>
<line x1="43.1" y1="611.66" x2="47.4" y2="611.66" stroke="#000" stroke-width="1.7"/>
<text class="tk" x="42.2" y="615.98" font-size="12" text-anchor="end">20</text>
<line x1="43.1" y1="636.7" x2="47.4" y2="636.7" stroke="#000" stroke-width="1.7"/>
<text class="tk" x="42.2" y="641.02" font-size="12" text-anchor="end">0</text>
<line x1="46.4" y1="636.7" x2="235.4" y2="636.7" stroke="#000" stroke-width="1.9"/>
<text class="xl" x="63.5" y="650.4" font-size="11.7" textLength="15.9" lengthAdjust="spacingAndGlyphs">DN</text>
<text class="xl" x="98.1" y="650.4" font-size="11.7" textLength="40.2" lengthAdjust="spacingAndGlyphs">CD27hi</text>
<text class="xl" x="157.5" y="650.4" font-size="11.7" textLength="15.0" lengthAdjust="spacingAndGlyphs">DP</text>
<text class="xl" x="193" y="650.4" font-size="11.7" textLength="39" lengthAdjust="spacingAndGlyphs">CD27lo</text>
<rect x="59.1" y="528.8" width="16.7" height="10.9" fill="#000"/>
<g transform="translate(59.1 541.3)">
<rect x="1.3" y="1.3" width="14.1" height="7.6" fill="url(#chk2)" stroke="#000" stroke-width="2.6"/>
</g>
<text class="lg" x="82.5" y="537.9" font-size="9.5" textLength="13.9" lengthAdjust="spacingAndGlyphs">WT</text>
<text class="lg" x="82.5" y="548.9" font-size="9.5" textLength="52.3" lengthAdjust="spacingAndGlyphs">NKG2D KO</text>
<text class="ax" x="16.1" y="571" font-size="15.6" textLength="72.6" lengthAdjust="spacingAndGlyphs" text-anchor="middle" transform="rotate(-90 16.1 571)">% NK cells</text>
<text class="hd" x="131.2" y="700.8" font-size="17.3" font-weight="bold" textLength="28.6" lengthAdjust="spacingAndGlyphs">BM</text>
<line x1="64.7" y1="816.7" x2="64.7" y2="815" stroke="#000" stroke-width="1.3"/>
<line x1="61.4" y1="815" x2="68.0" y2="815" stroke="#000" stroke-width="1.4"/>
<rect x="59.1" y="816.2" width="11.2" height="7.4" fill="#000"/>
<line x1="79.3" y1="814.0" x2="79.3" y2="811.5" stroke="#000" stroke-width="1.3"/>
<line x1="76.0" y1="811.5" x2="82.6" y2="811.5" stroke="#000" stroke-width="1.4"/>
<g transform="translate(73.7 813.5)">
<rect x="1.15" y="1.15" width="8.9" height="8.95" fill="url(#chk2)" stroke="#000" stroke-width="2.3"/>
</g>
<line x1="112.1" y1="805.7" x2="112.1" y2="802.5" stroke="#000" stroke-width="1.3"/>
<line x1="108.8" y1="802.5" x2="115.4" y2="802.5" stroke="#000" stroke-width="1.4"/>
<rect x="106.5" y="805.2" width="11.2" height="18.4" fill="#000"/>
<line x1="126.8" y1="807.2" x2="126.8" y2="804.8" stroke="#000" stroke-width="1.3"/>
<line x1="123.5" y1="804.8" x2="130.1" y2="804.8" stroke="#000" stroke-width="1.4"/>
<g transform="translate(121.2 806.7)">
<rect x="1.15" y="1.15" width="8.9" height="15.75" fill="url(#chk2)" stroke="#000" stroke-width="2.3"/>
</g>
<line x1="159.6" y1="760.7" x2="159.6" y2="752.9" stroke="#000" stroke-width="1.3"/>
<line x1="156.3" y1="752.9" x2="162.9" y2="752.9" stroke="#000" stroke-width="1.4"/>
<rect x="154" y="760.2" width="11.2" height="63.4" fill="#000"/>
<line x1="174.2" y1="772.5" x2="174.2" y2="766.8" stroke="#000" stroke-width="1.3"/>
<line x1="170.9" y1="766.8" x2="177.5" y2="766.8" stroke="#000" stroke-width="1.4"/>
<g transform="translate(168.6 772)">
<rect x="1.15" y="1.15" width="8.9" height="50.45" fill="url(#chk2)" stroke="#000" stroke-width="2.3"/>
</g>
<line x1="206.5" y1="783.5" x2="206.5" y2="775.8" stroke="#000" stroke-width="1.3"/>
<line x1="203.2" y1="775.8" x2="209.8" y2="775.8" stroke="#000" stroke-width="1.4"/>
<rect x="200.9" y="783" width="11.2" height="40.6" fill="#000"/>
<line x1="221.1" y1="772.5" x2="221.1" y2="768.1" stroke="#000" stroke-width="1.3"/>
<line x1="217.8" y1="768.1" x2="224.4" y2="768.1" stroke="#000" stroke-width="1.4"/>
<g transform="translate(215.5 772)">
<rect x="1.15" y="1.15" width="8.9" height="50.45" fill="url(#chk2)" stroke="#000" stroke-width="2.3"/>
</g>
<line x1="48.5" y1="696.75" x2="48.5" y2="824.6" stroke="#000" stroke-width="2"/>
<line x1="43.8" y1="697.6" x2="48.5" y2="697.6" stroke="#000" stroke-width="1.7"/>
<text class="tk" x="43.5" y="701.92" font-size="12" text-anchor="end">100</text>
<line x1="43.8" y1="722.8" x2="48.5" y2="722.8" stroke="#000" stroke-width="1.7"/>
<text class="tk" x="43.5" y="727.12" font-size="12" text-anchor="end">80</text>
<line x1="43.8" y1="748.0" x2="48.5" y2="748.0" stroke="#000" stroke-width="1.7"/>
<text class="tk" x="43.5" y="752.32" font-size="12" text-anchor="end">60</text>
<line x1="43.8" y1="773.2" x2="48.5" y2="773.2" stroke="#000" stroke-width="1.7"/>
<text class="tk" x="43.5" y="777.52" font-size="12" text-anchor="end">40</text>
<line x1="43.8" y1="798.4" x2="48.5" y2="798.4" stroke="#000" stroke-width="1.7"/>
<text class="tk" x="43.5" y="802.72" font-size="12" text-anchor="end">20</text>
<line x1="43.8" y1="823.6" x2="48.5" y2="823.6" stroke="#000" stroke-width="1.7"/>
<text class="tk" x="43.5" y="827.92" font-size="12" text-anchor="end">0</text>
<line x1="47.5" y1="823.6" x2="236.4" y2="823.6" stroke="#000" stroke-width="1.9"/>
<text class="xl" x="64.2" y="836.6" font-size="11.7" textLength="17.0" lengthAdjust="spacingAndGlyphs">DN</text>
<text class="xl" x="98.8" y="836.6" font-size="11.7" textLength="40.2" lengthAdjust="spacingAndGlyphs">CD27hi</text>
<text class="xl" x="159.2" y="836.6" font-size="11.7" textLength="14.5" lengthAdjust="spacingAndGlyphs">DP</text>
<text class="xl" x="193.7" y="836.6" font-size="11.7" textLength="39.3" lengthAdjust="spacingAndGlyphs">CD27lo</text>
<rect x="54" y="709.5" width="16.6" height="9.6" fill="#000"/>
<g transform="translate(54 721.6)">
<rect x="1.3" y="1.3" width="14.0" height="7.8" fill="url(#chk2)" stroke="#000" stroke-width="2.6"/>
</g>
<text class="lg" x="77.9" y="718.3" font-size="9.5" textLength="13.5" lengthAdjust="spacingAndGlyphs">WT</text>
<text class="lg" x="77.9" y="729.8" font-size="9.5" textLength="51.5" lengthAdjust="spacingAndGlyphs">NKG2D KO</text>
<text class="ax" x="17.2" y="757.4" font-size="15.6" textLength="73.7" lengthAdjust="spacingAndGlyphs" text-anchor="middle" transform="rotate(-90 17.2 757.4)">% NK cells</text>
<text class="pa" x="241.3" y="322.6" font-size="24.7" font-weight="bold">D</text>
<line x1="295.4" y1="327.15" x2="295.4" y2="445.01" stroke="#000" stroke-width="2"/>
<line x1="290.4" y1="328.0" x2="295.4" y2="328.0" stroke="#000" stroke-width="1.7"/>
<text class="tk" x="290.0" y="332.14" font-size="11.5" text-anchor="end">15</text>
<line x1="290.4" y1="366.67" x2="295.4" y2="366.67" stroke="#000" stroke-width="1.7"/>
<text class="tk" x="290.0" y="370.81" font-size="11.5" text-anchor="end">10</text>
<line x1="290.4" y1="405.34" x2="295.4" y2="405.34" stroke="#000" stroke-width="1.7"/>
<text class="tk" x="290.0" y="409.48" font-size="11.5" text-anchor="end">5</text>
<line x1="290.4" y1="444.01" x2="295.4" y2="444.01" stroke="#000" stroke-width="1.7"/>
<text class="tk" x="290.0" y="448.15" font-size="11.5" text-anchor="end">0</text>
<line x1="294.4" y1="444" x2="470.5" y2="444" stroke="#000" stroke-width="1.9"/>
<line x1="316.8" y1="444" x2="316.8" y2="448.6" stroke="#000" stroke-width="1.6"/>
<line x1="360.8" y1="444" x2="360.8" y2="448.6" stroke="#000" stroke-width="1.6"/>
<line x1="404.7" y1="444" x2="404.7" y2="448.6" stroke="#000" stroke-width="1.6"/>
<line x1="448.7" y1="444" x2="448.7" y2="448.6" stroke="#000" stroke-width="1.6"/>
<text class="lb" x="316.8" y="460" font-size="11" font-weight="bold" text-anchor="middle">1</text>
<text class="lb" x="360.8" y="460" font-size="11" font-weight="bold" text-anchor="middle">5</text>
<text class="lb" x="404.7" y="460" font-size="11" font-weight="bold" text-anchor="middle">25</text>
<text class="lb" x="448.7" y="460" font-size="11" font-weight="bold" text-anchor="middle">50</text>
<line x1="316.8" y1="386.2" x2="316.8" y2="413.5" stroke="#000" stroke-width="1.4"/>
<line x1="312.8" y1="386.2" x2="320.8" y2="386.2" stroke="#000" stroke-width="1.5"/>
<line x1="312.8" y1="413.5" x2="320.8" y2="413.5" stroke="#000" stroke-width="1.5"/>
<line x1="360.8" y1="355.8" x2="360.8" y2="403.1" stroke="#000" stroke-width="1.4"/>
<line x1="356.8" y1="355.8" x2="364.8" y2="355.8" stroke="#000" stroke-width="1.5"/>
<line x1="356.8" y1="403.1" x2="364.8" y2="403.1" stroke="#000" stroke-width="1.5"/>
<line x1="404.7" y1="339.6" x2="404.7" y2="394.4" stroke="#000" stroke-width="1.4"/>
<line x1="400.7" y1="339.6" x2="408.7" y2="339.6" stroke="#000" stroke-width="1.5"/>
<line x1="400.7" y1="394.4" x2="408.7" y2="394.4" stroke="#000" stroke-width="1.5"/>
<line x1="448.7" y1="348.8" x2="448.7" y2="394.6" stroke="#000" stroke-width="1.4"/>
<line x1="444.7" y1="348.8" x2="452.7" y2="348.8" stroke="#000" stroke-width="1.5"/>
<line x1="444.7" y1="394.6" x2="452.7" y2="394.6" stroke="#000" stroke-width="1.5"/>
<polyline points="316.8,399.7 360.8,379.7 404.7,366.9 448.7,371.8" fill="none" stroke="#000" stroke-width="2.1"/>
<circle cx="316.8" cy="399.7" r="3.1" fill="#fff" stroke="#000" stroke-width="1.5"/>
<circle cx="360.8" cy="379.7" r="3.1" fill="#fff" stroke="#000" stroke-width="1.5"/>
<circle cx="404.7" cy="366.9" r="3.1" fill="#fff" stroke="#000" stroke-width="1.5"/>
<circle cx="448.7" cy="371.8" r="3.1" fill="#fff" stroke="#000" stroke-width="1.5"/>
<line x1="316.8" y1="399.8" x2="316.8" y2="417.4" stroke="#000" stroke-width="1.4"/>
<line x1="312.8" y1="399.8" x2="320.8" y2="399.8" stroke="#000" stroke-width="1.5"/>
<line x1="312.8" y1="417.4" x2="320.8" y2="417.4" stroke="#000" stroke-width="1.5"/>
<line x1="360.8" y1="380.9" x2="360.8" y2="407.7" stroke="#000" stroke-width="1.4"/>
<line x1="356.8" y1="380.9" x2="364.8" y2="380.9" stroke="#000" stroke-width="1.5"/>
<line x1="356.8" y1="407.7" x2="364.8" y2="407.7" stroke="#000" stroke-width="1.5"/>
<line x1="404.7" y1="379.6" x2="404.7" y2="406" stroke="#000" stroke-width="1.4"/>
<line x1="400.7" y1="379.6" x2="408.7" y2="379.6" stroke="#000" stroke-width="1.5"/>
<line x1="400.7" y1="406" x2="408.7" y2="406" stroke="#000" stroke-width="1.5"/>
<line x1="448.7" y1="390.6" x2="448.7" y2="410.8" stroke="#000" stroke-width="1.4"/>
<line x1="444.7" y1="390.6" x2="452.7" y2="390.6" stroke="#000" stroke-width="1.5"/>
<line x1="444.7" y1="410.8" x2="452.7" y2="410.8" stroke="#000" stroke-width="1.5"/>
<polyline points="316.8,408.5 360.8,394.2 404.7,392.6 448.7,401" fill="none" stroke="#000" stroke-width="2.1"/>
<circle cx="316.8" cy="408.5" r="3.6" fill="#000"/>
<circle cx="360.8" cy="394.2" r="3.6" fill="#000"/>
<circle cx="404.7" cy="392.6" r="3.6" fill="#000"/>
<circle cx="448.7" cy="401" r="3.6" fill="#000"/>
<line x1="312.3" y1="321.8" x2="327.5" y2="321.8" stroke="#000" stroke-width="1.8"/>
<circle cx="320" cy="321.8" r="3.3" fill="#000"/>
<circle cx="320" cy="335.6" r="2.8" fill="#fff" stroke="#000" stroke-width="1.5"/>
<line x1="312.3" y1="335.6" x2="327.5" y2="335.6" stroke="#000" stroke-width="1.8"/>
<text class="lb" x="333.4" y="325" font-size="8.9" font-weight="bold" textLength="14" lengthAdjust="spacingAndGlyphs">WT</text>
<text class="lb" x="333.4" y="338.9" font-size="8.9" font-weight="bold" textLength="50.4" lengthAdjust="spacingAndGlyphs">NKG2D KO</text>
<text class="pa" x="352.6" y="476.1" font-size="8.4" font-weight="bold" textLength="61.5" lengthAdjust="spacingAndGlyphs">PK136 (ug/ml)</text>
<text class="ax" transform="rotate(-90 272.1 440.5)" x="272.1" y="440.5" font-size="15" textLength="113" lengthAdjust="spacingAndGlyphs">% IFN-γ<tspan font-size="9" dy="-5">+</tspan><tspan dy="5"> NK cells</tspan></text>
<rect x="279" y="380.5" width="1" height="1.2" fill="#555"/>
<rect x="277.5" y="443.2" width="1" height="1" fill="#777"/>
<line x1="308.7" y1="510.25" x2="308.7" y2="631.0" stroke="#000" stroke-width="2"/>
<line x1="304.1" y1="511.1" x2="308.7" y2="511.1" stroke="#000" stroke-width="1.7"/>
<text class="tk" x="303.9" y="516.36" font-size="14.6" text-anchor="end">10</text>
<line x1="304.1" y1="534.88" x2="308.7" y2="534.88" stroke="#000" stroke-width="1.7"/>
<text class="tk" x="303.9" y="540.14" font-size="14.6" text-anchor="end">8</text>
<line x1="304.1" y1="558.66" x2="308.7" y2="558.66" stroke="#000" stroke-width="1.7"/>
<text class="tk" x="303.9" y="563.92" font-size="14.6" text-anchor="end">6</text>
<line x1="304.1" y1="582.44" x2="308.7" y2="582.44" stroke="#000" stroke-width="1.7"/>
<text class="tk" x="303.9" y="587.7" font-size="14.6" text-anchor="end">4</text>
<line x1="304.1" y1="606.22" x2="308.7" y2="606.22" stroke="#000" stroke-width="1.7"/>
<text class="tk" x="303.9" y="611.48" font-size="14.6" text-anchor="end">2</text>
<line x1="304.1" y1="630.0" x2="308.7" y2="630.0" stroke="#000" stroke-width="1.7"/>
<text class="tk" x="303.9" y="635.26" font-size="14.6" text-anchor="end">0</text>
<line x1="307.7" y1="630" x2="487.4" y2="630" stroke="#000" stroke-width="1.9"/>
<line x1="353.2" y1="630" x2="353.2" y2="634" stroke="#000" stroke-width="1.6"/>
<line x1="442.8" y1="630" x2="442.8" y2="634" stroke="#000" stroke-width="1.6"/>
<line x1="353.2" y1="553.2" x2="353.2" y2="580.3" stroke="#000" stroke-width="1.4"/>
<line x1="338" y1="553.2" x2="368.2" y2="553.2" stroke="#000" stroke-width="1.4"/>
<line x1="338" y1="580.3" x2="368.2" y2="580.3" stroke="#000" stroke-width="1.4"/>
<line x1="323.5" y1="566.9" x2="383" y2="566.9" stroke="#000" stroke-width="1.4"/>
<line x1="442.8" y1="523.6" x2="442.8" y2="560.8" stroke="#000" stroke-width="1.4"/>
<line x1="427.1" y1="523.6" x2="458.2" y2="523.6" stroke="#000" stroke-width="1.4"/>
<line x1="427.1" y1="560.8" x2="458.2" y2="560.8" stroke="#000" stroke-width="1.4"/>
<line x1="412.5" y1="542.1" x2="473" y2="542.1" stroke="#000" stroke-width="1.4"/>
<circle cx="353.2" cy="548.8" r="2.6" fill="none" stroke="#000" stroke-width="1.4"/>
<circle cx="353.2" cy="564.2" r="2.6" fill="none" stroke="#000" stroke-width="1.4"/>
<circle cx="357.6" cy="574.3" r="2.6" fill="none" stroke="#000" stroke-width="1.4"/>
<circle cx="348.6" cy="579.4" r="2.6" fill="none" stroke="#000" stroke-width="1.4"/>
<circle cx="442.8" cy="521.5" r="2.6" fill="none" stroke="#000" stroke-width="1.4"/>
<circle cx="442.8" cy="533.5" r="2.6" fill="none" stroke="#000" stroke-width="1.4"/>
<circle cx="442.8" cy="551" r="2.6" fill="none" stroke="#000" stroke-width="1.4"/>
<circle cx="442.8" cy="563.5" r="2.6" fill="none" stroke="#000" stroke-width="1.4"/>
<text class="xl" x="344.3" y="646.6" font-size="11.3" textLength="17.2" lengthAdjust="spacingAndGlyphs">WT</text>
<text class="xl" x="413.2" y="646.6" font-size="11.3" textLength="58.9" lengthAdjust="spacingAndGlyphs">NKG2D KO</text>
<line x1="347.2" y1="655" x2="456.7" y2="655" stroke="#000" stroke-width="1.4"/>
<text class="pa" x="380.4" y="673.3" font-size="14" textLength="24.3" lengthAdjust="spacingAndGlyphs">IL-2</text>
<text class="ax" transform="rotate(-90 283.3 625.4)" x="283.3" y="625.4" font-size="15.7" textLength="113.3" lengthAdjust="spacingAndGlyphs">% IFN-γ<tspan font-size="9" dy="-5">+</tspan><tspan dy="5"> NK cells</tspan></text>
</svg></body></html>
